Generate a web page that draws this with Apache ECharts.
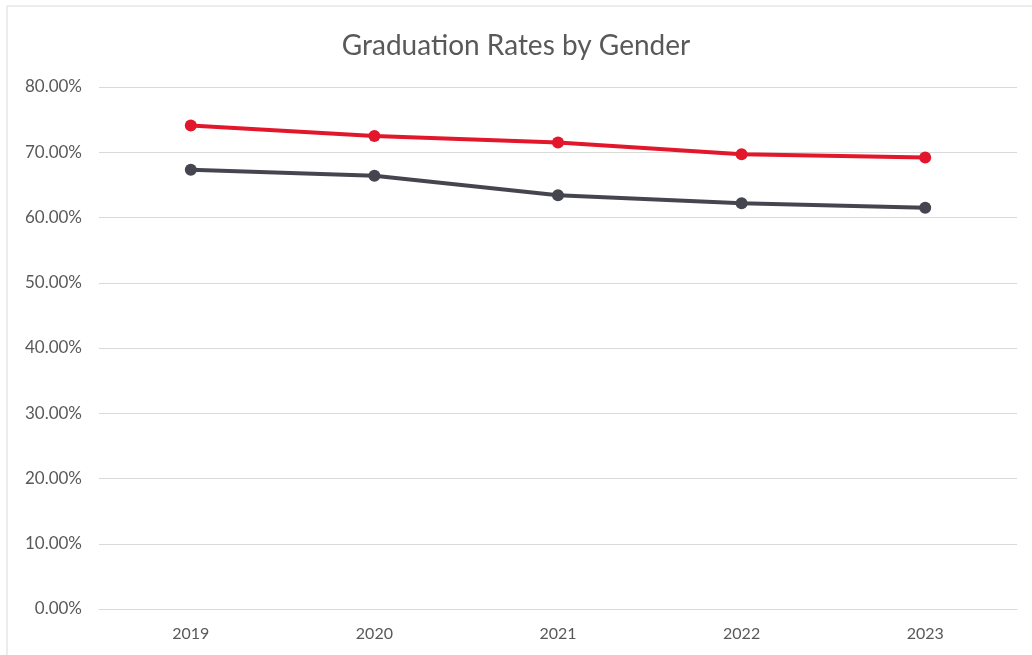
<!DOCTYPE html>
<html><head><meta charset="utf-8">
<script src="https://cdn.jsdelivr.net/npm/echarts@6/dist/echarts.min.js"></script>
<style>html,body{margin:0;padding:0;background:#fff}#c{width:1032px;height:655px}</style>
</head><body><div id="c"></div>
<script>
const categories = ['2019','2020','2021','2022','2023'];
const femaleRates = [0.741, 0.725, 0.715, 0.697, 0.692];
const maleRates = [0.673, 0.664, 0.634, 0.622, 0.615];
const chart = echarts.init(document.getElementById('c'));
const font = 'Lato, "Open Sans", sans-serif';
chart.setOption({
  animation: false,
  backgroundColor: '#fff',
  title: { text: 'Graduation Rates by Gender', left: 'center', top: 27,
    textStyle: { fontFamily: font, fontSize: 28, fontWeight: 'normal', color: '#595959' } },
  graphic: [{ type: 'rect', shape: { x: 7, y: 6, width: 1040, height: 660 }, style: { fill: 'none', stroke: '#d9d9d9', lineWidth: 1 } }],
  grid: { left: 99, right: 15, top: 87, bottom: 46 },
  xAxis: { type: 'category', data: categories, boundaryGap: true,
    axisLine: { show: true, lineStyle: { color: '#d9d9d9', width: 1 } }, axisTick: { show: false },
    axisLabel: { fontFamily: font, fontSize: 16, color: '#595959', margin: 17 } },
  yAxis: { type: 'value', min: 0, max: 0.8, interval: 0.1,
    axisLine: { show: false }, axisTick: { show: false },
    splitLine: { lineStyle: { color: '#d9d9d9', width: 1 } },
    axisLabel: { fontFamily: font, fontSize: 17, color: '#595959', margin: 17,
      formatter: v => (v * 100).toFixed(2) + '%' } },
  series: [
    { name: 'Female', type: 'line', data: femaleRates, symbol: 'circle', symbolSize: 12,
      lineStyle: { color: '#E3172B', width: 4 }, itemStyle: { color: '#E3172B' } },
    { name: 'Male', type: 'line', data: maleRates, symbol: 'circle', symbolSize: 12,
      lineStyle: { color: '#45454F', width: 4 }, itemStyle: { color: '#45454F' } }
  ]
});
</script></body></html>
